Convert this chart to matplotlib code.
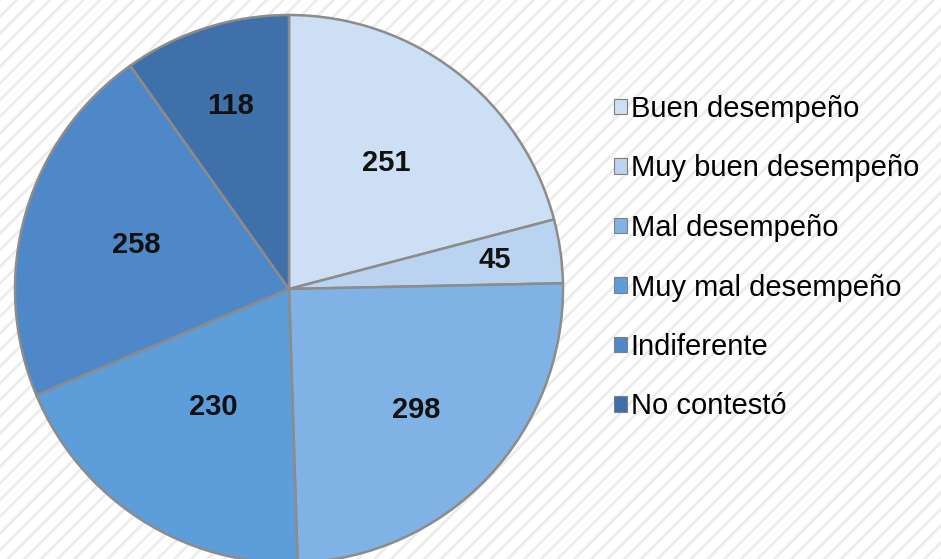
import numpy as np
import matplotlib.pyplot as plt
from matplotlib.patches import Rectangle, Patch

# datos del grafico
categorias = ['Buen desempeño', 'Muy buen desempeño', 'Mal desempeño',
              'Muy mal desempeño', 'Indiferente', 'No contestó']
valores = [251, 45, 298, 230, 258, 118]

colores = ['#cddff4', '#b9d3f0', '#80b2e6', '#5d9dd9', '#4f88c8', '#3f70a9']
dist_etiqueta = [0.58, 0.76, 0.64, 0.51, 0.58, 0.70]

plt.rcParams['font.family'] = ['Liberation Sans', 'DejaVu Sans']
plt.rcParams['hatch.linewidth'] = 2.0
plt.rcParams['hatch.color'] = '#ececec'

fig = plt.figure(figsize=(9.41, 5.59), dpi=100)
fig.patch.set_facecolor('white')

# fondo rayado
fondo = Rectangle((0, 0), 1, 1, transform=fig.transFigure, facecolor='white',
                  edgecolor='#ececec', hatch='//', linewidth=0, zorder=-10)
fig.patches.append(fondo)

ax = fig.add_axes([15 / 941, (270 - 274) / 559, 548 / 941, 548 / 559])
wedges, _ = ax.pie(valores, colors=colores, startangle=90, counterclock=False,
                   radius=1.0,
                   wedgeprops=dict(edgecolor='#8c8c8c', linewidth=1.8))
ax.set_xlim(-1, 1)
ax.set_ylim(-1, 1)
ax.set_aspect('equal')
ax.axis('off')

# etiquetas con los valores
for w, v, d in zip(wedges, valores, dist_etiqueta):
    ang = np.deg2rad((w.theta1 + w.theta2) / 2)
    ax.text(d * np.cos(ang), d * np.sin(ang), str(v), ha='center', va='center',
            fontsize=21, fontweight='bold', color='#111111')

handles = [Patch(facecolor=c, edgecolor='#7f7f7f', linewidth=0.8) for c in colores]
fig.legend(handles, categorias, loc='upper left', bbox_to_anchor=(614 / 941, 1 - 95 / 559),
           frameon=False, fontsize=21, handlelength=0.45, handleheight=0.45,
           handletextpad=0.12, labelspacing=1.08, borderaxespad=0, borderpad=0)

fig.savefig('out.png', dpi=100)
